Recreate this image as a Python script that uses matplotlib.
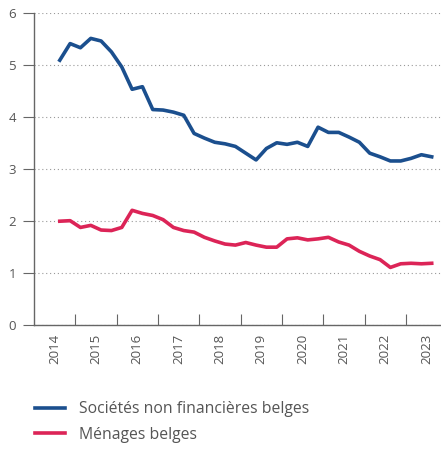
import matplotlib.pyplot as plt
import numpy as np

plt.rcParams['font.family'] = ['Open Sans', 'DejaVu Sans']

# quarterly series, 2014 Q3 .. 2023 Q3
x_start = 2014.625
societes = [5.10, 5.42, 5.34, 5.52, 5.47, 5.26, 4.97, 4.54, 4.59, 4.15,
            4.14, 4.10, 4.04, 3.69, 3.60, 3.52, 3.49, 3.44, 3.31, 3.18,
            3.40, 3.51, 3.48, 3.52, 3.44, 3.81, 3.71, 3.71, 3.62, 3.52,
            3.31, 3.24, 3.16, 3.16, 3.21, 3.28, 3.24]
menages = [2.00, 2.01, 1.88, 1.92, 1.83, 1.82, 1.88, 2.21, 2.15, 2.11,
           2.03, 1.88, 1.82, 1.79, 1.69, 1.62, 1.56, 1.54, 1.59, 1.54,
           1.50, 1.50, 1.66, 1.68, 1.64, 1.66, 1.69, 1.60, 1.54, 1.42,
           1.33, 1.26, 1.11, 1.18, 1.19, 1.18, 1.19]
years = list(range(2014, 2024))
labels = ['Sociétés non financières belges', 'Ménages belges']

t = x_start + 0.25 * np.arange(len(societes))

fig = plt.figure(figsize=(4.41, 4.49), dpi=100)
ax = fig.add_axes([0.077, 0.276, 0.923, 0.694])

blue = '#1b4f8e'
red = '#dc2457'
ax.plot(t, societes, color=blue, lw=2.6, solid_joinstyle='round', label=labels[0])
ax.plot(t, menages, color=red, lw=2.6, solid_joinstyle='round', label=labels[1])

ax.set_xlim(2014, 2023.85)
ax.set_ylim(0, 6)

grey = '#666666'
for s in ['top', 'right']:
    ax.spines[s].set_visible(False)
for s in ['left', 'bottom']:
    ax.spines[s].set_color(grey)
    ax.spines[s].set_linewidth(1.0)

ax.set_yticks(range(0, 7))
ax.yaxis.grid(True, linestyle=(0, (1, 2.5)), color='#999999', lw=0.8)
ax.tick_params(axis='y', direction='out', length=8, color=grey, labelcolor='#555555',
               labelsize=9.5, pad=5)

ax.set_xticks(years[1:])
ax.set_xticklabels([])
ax.set_xticks([y + 0.5 for y in years], minor=True)
ax.set_xticklabels([str(y) for y in years], minor=True, rotation=90)
ax.tick_params(axis='x', which='major', direction='in', length=8, color=grey)
ax.tick_params(axis='x', which='minor', length=0, labelcolor='#555555',
               labelsize=9.5, pad=6)

fig.legend(loc='upper left', bbox_to_anchor=(0.079, 0.106), frameon=False,
           borderpad=0, borderaxespad=0,
           fontsize=11.3, labelcolor='#555555', handlelength=1.9,
           handletextpad=0.9, labelspacing=0.6)

fig.savefig('out.png', dpi=100)
